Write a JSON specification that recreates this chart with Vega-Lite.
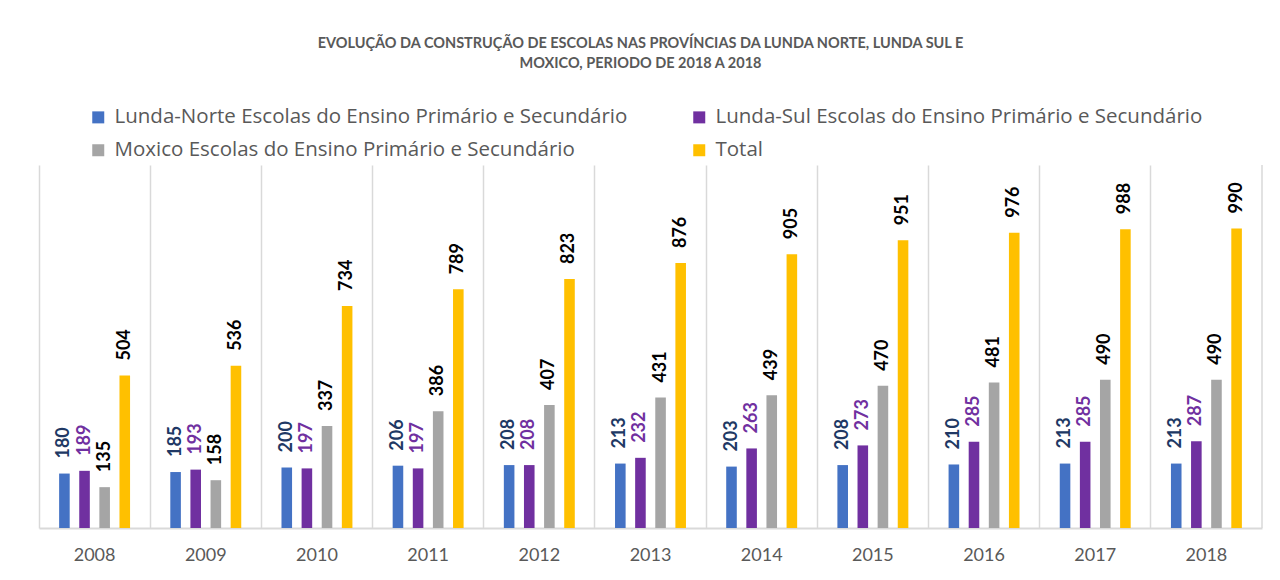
{
  "$schema": "https://vega.github.io/schema/vega-lite/v6.json",
  "width": 1223,
  "height": 363,
  "autosize": {"type": "none"},
  "padding": {"left": 39, "top": 165, "right": 18, "bottom": 52},
  "background": "white",
  "config": {
    "font": "Lato",
    "view": {"stroke": null},
    "axis": {"labelFont": "Lato", "titleFont": "Lato"},
    "legend": {"labelFont": "Open Sans"}
  },
  "title": {
    "text": ["EVOLUÇÃO DA CONSTRUÇÃO DE ESCOLAS NAS PROVÍNCIAS DA LUNDA NORTE, LUNDA SUL E", "MOXICO, PERIODO DE 2018 A 2018"],
    "font": "Lato",
    "fontSize": 14.5,
    "fontWeight": "bold",
    "color": "#595959",
    "lineHeight": 20,
    "anchor": "middle",
    "frame": "group",
    "dx": -10,
    "offset": 36
  },
  "datasets": {
    "escolas": [
      {"ano": "2008", "serie": "Lunda-Norte Escolas do Ensino Primário e Secundário", "valor": 180},
      {"ano": "2008", "serie": "Lunda-Sul Escolas do Ensino Primário e Secundário", "valor": 189},
      {"ano": "2008", "serie": "Moxico Escolas do Ensino Primário e Secundário", "valor": 135},
      {"ano": "2008", "serie": "Total", "valor": 504},
      {"ano": "2009", "serie": "Lunda-Norte Escolas do Ensino Primário e Secundário", "valor": 185},
      {"ano": "2009", "serie": "Lunda-Sul Escolas do Ensino Primário e Secundário", "valor": 193},
      {"ano": "2009", "serie": "Moxico Escolas do Ensino Primário e Secundário", "valor": 158},
      {"ano": "2009", "serie": "Total", "valor": 536},
      {"ano": "2010", "serie": "Lunda-Norte Escolas do Ensino Primário e Secundário", "valor": 200},
      {"ano": "2010", "serie": "Lunda-Sul Escolas do Ensino Primário e Secundário", "valor": 197},
      {"ano": "2010", "serie": "Moxico Escolas do Ensino Primário e Secundário", "valor": 337},
      {"ano": "2010", "serie": "Total", "valor": 734},
      {"ano": "2011", "serie": "Lunda-Norte Escolas do Ensino Primário e Secundário", "valor": 206},
      {"ano": "2011", "serie": "Lunda-Sul Escolas do Ensino Primário e Secundário", "valor": 197},
      {"ano": "2011", "serie": "Moxico Escolas do Ensino Primário e Secundário", "valor": 386},
      {"ano": "2011", "serie": "Total", "valor": 789},
      {"ano": "2012", "serie": "Lunda-Norte Escolas do Ensino Primário e Secundário", "valor": 208},
      {"ano": "2012", "serie": "Lunda-Sul Escolas do Ensino Primário e Secundário", "valor": 208},
      {"ano": "2012", "serie": "Moxico Escolas do Ensino Primário e Secundário", "valor": 407},
      {"ano": "2012", "serie": "Total", "valor": 823},
      {"ano": "2013", "serie": "Lunda-Norte Escolas do Ensino Primário e Secundário", "valor": 213},
      {"ano": "2013", "serie": "Lunda-Sul Escolas do Ensino Primário e Secundário", "valor": 232},
      {"ano": "2013", "serie": "Moxico Escolas do Ensino Primário e Secundário", "valor": 431},
      {"ano": "2013", "serie": "Total", "valor": 876},
      {"ano": "2014", "serie": "Lunda-Norte Escolas do Ensino Primário e Secundário", "valor": 203},
      {"ano": "2014", "serie": "Lunda-Sul Escolas do Ensino Primário e Secundário", "valor": 263},
      {"ano": "2014", "serie": "Moxico Escolas do Ensino Primário e Secundário", "valor": 439},
      {"ano": "2014", "serie": "Total", "valor": 905},
      {"ano": "2015", "serie": "Lunda-Norte Escolas do Ensino Primário e Secundário", "valor": 208},
      {"ano": "2015", "serie": "Lunda-Sul Escolas do Ensino Primário e Secundário", "valor": 273},
      {"ano": "2015", "serie": "Moxico Escolas do Ensino Primário e Secundário", "valor": 470},
      {"ano": "2015", "serie": "Total", "valor": 951},
      {"ano": "2016", "serie": "Lunda-Norte Escolas do Ensino Primário e Secundário", "valor": 210},
      {"ano": "2016", "serie": "Lunda-Sul Escolas do Ensino Primário e Secundário", "valor": 285},
      {"ano": "2016", "serie": "Moxico Escolas do Ensino Primário e Secundário", "valor": 481},
      {"ano": "2016", "serie": "Total", "valor": 976},
      {"ano": "2017", "serie": "Lunda-Norte Escolas do Ensino Primário e Secundário", "valor": 213},
      {"ano": "2017", "serie": "Lunda-Sul Escolas do Ensino Primário e Secundário", "valor": 285},
      {"ano": "2017", "serie": "Moxico Escolas do Ensino Primário e Secundário", "valor": 490},
      {"ano": "2017", "serie": "Total", "valor": 988},
      {"ano": "2018", "serie": "Lunda-Norte Escolas do Ensino Primário e Secundário", "valor": 213},
      {"ano": "2018", "serie": "Lunda-Sul Escolas do Ensino Primário e Secundário", "valor": 287},
      {"ano": "2018", "serie": "Moxico Escolas do Ensino Primário e Secundário", "valor": 490},
      {"ano": "2018", "serie": "Total", "valor": 990}
    ],
    "borda": [{"ano": "2018"}]
  },
  "layer": [
    {
      "data": {"name": "escolas"},
      "mark": {"type": "bar"},
      "encoding": {
        "x": {
          "field": "ano", "type": "nominal",
          "scale": {"paddingInner": 0, "paddingOuter": 0},
          "axis": {
            "title": null, "labelAngle": 0, "labelFontSize": 18, "labelColor": "#595959",
            "ticks": false, "tickSize": 0, "labelPadding": 18,
            "domainColor": "#D9D9D9", "domainWidth": 2,
            "grid": true, "gridColor": "#D9D9D9", "gridWidth": 1.5, "bandPosition": 0
          }
        },
        "xOffset": {
          "field": "serie", "type": "nominal",
          "scale": {"paddingInner": 0.474, "paddingOuter": 1.163}
        },
        "y": {
          "field": "valor", "type": "quantitative",
          "scale": {"domain": [0, 1200], "nice": false},
          "axis": null
        },
        "color": {
          "field": "serie", "type": "nominal",
          "scale": {
            "domain": ["Lunda-Norte Escolas do Ensino Primário e Secundário", "Lunda-Sul Escolas do Ensino Primário e Secundário", "Moxico Escolas do Ensino Primário e Secundário", "Total"],
            "range": ["#4472C4", "#7030A0", "#A5A5A5", "#FFC000"]
          },
          "legend": {
            "title": null, "orient": "none", "legendX": 49, "legendY": -58,
            "direction": "horizontal", "columns": 2, "columnPadding": 61, "rowPadding": 12,
            "padding": 0, "labelFontSize": 20.5, "labelColor": "#595959", "labelLimit": 800,
            "labelOffset": 6, "symbolType": "square", "symbolSize": 144, "symbolStrokeWidth": 0,
            "gridAlign": "each"
          }
        }
      }
    },
    {
      "data": {"name": "escolas"},
      "mark": {"type": "text", "angle": 270, "align": "left", "baseline": "middle", "dx": 15, "fontWeight": "bold", "fontSize": 18, "font": "Lato"},
      "encoding": {
        "x": {"field": "ano", "type": "nominal"},
        "xOffset": {"field": "serie", "type": "nominal"},
        "y": {"field": "valor", "type": "quantitative"},
        "text": {"field": "valor", "type": "quantitative"},
        "color": {
          "field": "serie", "type": "nominal",
          "scale": {
            "domain": ["Lunda-Norte Escolas do Ensino Primário e Secundário", "Lunda-Sul Escolas do Ensino Primário e Secundário", "Moxico Escolas do Ensino Primário e Secundário", "Total"],
            "range": ["#203864", "#7030A0", "#000000", "#000000"]
          },
          "legend": null
        }
      }
    },
    {
      "data": {"name": "borda"},
      "mark": {"type": "rule", "color": "#D9D9D9", "strokeWidth": 1.5},
      "encoding": {
        "x": {"field": "ano", "type": "nominal", "bandPosition": 1}
      }
    }
  ],
  "resolve": {"scale": {"color": "independent"}}
}
